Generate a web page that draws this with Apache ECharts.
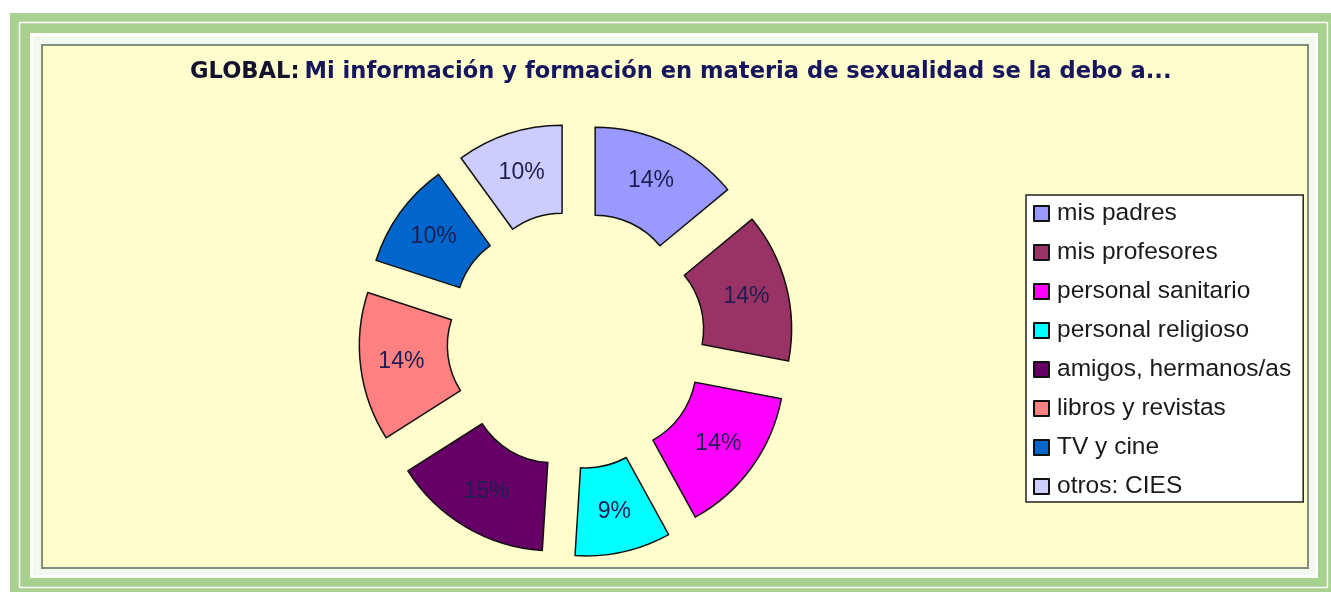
<!DOCTYPE html>
<html>
<head>
<meta charset="utf-8">
<script src="https://cdn.jsdelivr.net/npm/echarts@6/dist/echarts.min.js"></script>
<style>
  html, body { margin: 0; padding: 0; background: #fff; }
  #main { width: 1331px; height: 592px; }
</style>
</head>
<body>
<div id="main"></div>
<script>
// datos del gráfico
var categories = ['mis padres', 'mis profesores', 'personal sanitario', 'personal religioso',
  'amigos, hermanos/as', 'libros y revistas', 'TV y cine', 'otros: CIES'];
var percents = [14, 14, 14, 9, 15, 14, 10, 10];
var colors = ['#9999FF', '#993366', '#FF00FF', '#00FFFF', '#660066', '#FF8080', '#0066CC', '#CCCCFF'];

var chart = echarts.init(document.getElementById('main'));

var pieData = categories.map(function (name, i) {
  return { name: name, value: percents[i], selected: true, itemStyle: { color: colors[i] } };
});

chart.setOption({
  backgroundColor: '#ffffff',
  animation: false,
  // marco verde
  graphic: [
    { type: 'rect', z: 0, shape: { x: 10, y: 13, width: 1321, height: 579 }, style: { fill: '#A8D08E' } },
    { type: 'rect', z: 0, shape: { x: 19.5, y: 22.5, width: 1308, height: 565 }, style: { fill: 'none', stroke: '#ffffff', lineWidth: 1.5 } },
    { type: 'rect', z: 0, shape: { x: 31.5, y: 34.5, width: 1285, height: 542 }, style: { fill: '#F2F8EE', stroke: '#ffffff', lineWidth: 3 } },
    { type: 'rect', z: 0, shape: { x: 42, y: 45, width: 1266, height: 523 }, style: { fill: '#FFFDCB', stroke: '#7F8F7C', lineWidth: 2 } }
  ],
  title: {
    text: '{a|GLOBAL:} {b|Mi información y formación en materia de sexualidad se la debo a...}',
    left: 190,
    top: 59,
    padding: 0,
    textStyle: {
      rich: {
        a: { fontFamily: 'DejaVu Sans', fontWeight: 'bold', fontSize: 22.6, color: '#121230', lineHeight: 26 },
        b: { fontFamily: 'DejaVu Sans', fontWeight: 'bold', fontSize: 22.6, color: '#16165E', lineHeight: 26 }
      }
    }
  },
  legend: {
    orient: 'vertical',
    left: 1026,
    top: 195,
    padding: [6, 12, 3, 7],
    icon: 'rect',
    itemWidth: 15,
    itemHeight: 15,
    itemGap: 14,
    selectedMode: false,
    backgroundColor: '#ffffff',
    borderColor: '#222222',
    borderWidth: 1.5,
    borderRadius: 0,
    textStyle: { fontFamily: 'Liberation Sans', fontSize: 24.5, color: '#1a1a1a', lineHeight: 24, padding: [0, 0, 0, 3] },
    data: categories
  },
  series: [{
    type: 'pie',
    center: [576, 340],
    radius: [84, 172],
    startAngle: 90,
    clockwise: true,
    selectedMode: 'multiple',
    selectedOffset: 45,
    avoidLabelOverlap: false,
    itemStyle: { borderColor: '#111111', borderWidth: 1.5 },
    select: { itemStyle: { borderColor: '#111111', borderWidth: 1.5 } },
    emphasis: { disabled: true },
    label: {
      position: 'inside',
      formatter: '{c}%',
      fontFamily: 'Liberation Sans',
      fontSize: 23,
      color: '#1E1E50'
    },
    labelLine: { show: false },
    data: pieData
  }]
});
</script>
</body>
</html>
